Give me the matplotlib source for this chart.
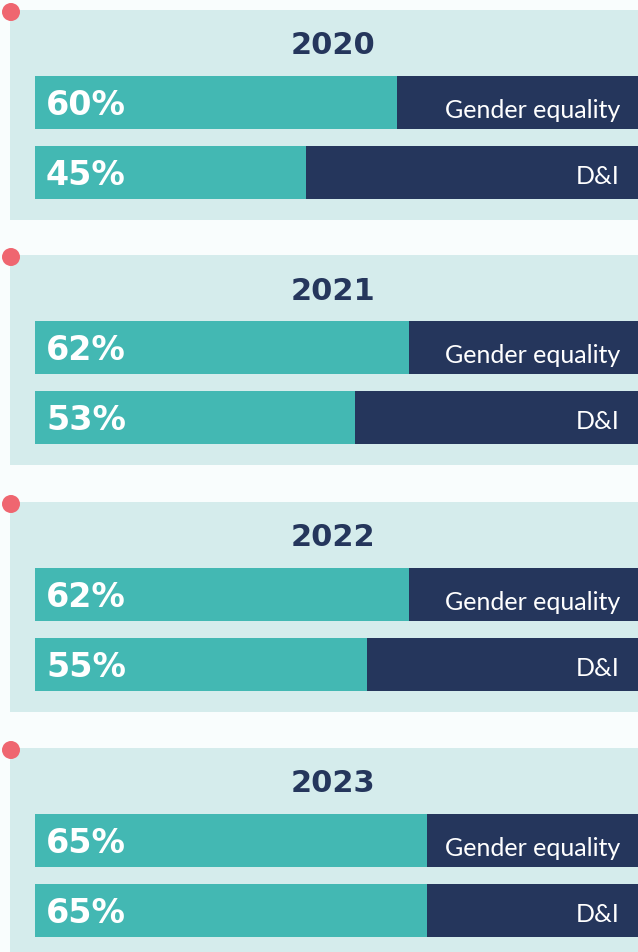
import matplotlib.pyplot as plt
from matplotlib.patches import Rectangle, Circle

# data
years = ["2020", "2021", "2022", "2023"]
gender_equality = [60, 62, 62, 65]
d_and_i = [45, 53, 55, 65]
bar_labels = ["Gender equality", "D&I"]

teal = "#43b8b3"
navy = "#25365c"
panel_bg = "#d5ecec"
page_bg = "#f9fdfd"
dot_red = "#ef6670"

W, H = 638, 952
fig = plt.figure(figsize=(W / 100, H / 100), dpi=100, facecolor=page_bg)
ax = fig.add_axes([0, 0, 1, 1])
ax.set_xlim(0, W)
ax.set_ylim(H, 0)
ax.axis("off")

# pixel layout
panel_tops = [10, 255, 502, 748]
panel_h = 210
bar_x0, bar_w = 35, 603
bar_h = 53
scale = bar_w / 100.0

for i, yr in enumerate(years):
    top = panel_tops[i]
    ax.add_patch(Rectangle((10, top), W - 10, panel_h + (10 if i == 3 else 0),
                           facecolor=panel_bg, edgecolor="none", zorder=0))
    ax.add_patch(Circle((11, top + 2), 9, facecolor=dot_red, edgecolor="none", zorder=3))
    ax.text(333, top + 36, yr, ha="center", va="center", fontsize=22,
            fontweight="heavy", color=navy, family="DejaVu Sans")

    vals = [gender_equality[i], d_and_i[i]]
    ys = [top + 66 + bar_h / 2, top + 136 + bar_h / 2]
    # full navy bar then teal share on top
    ax.barh(ys, [100 * scale] * 2, left=bar_x0, height=bar_h, color=navy, zorder=1)
    ax.barh(ys, [v * scale for v in vals], left=bar_x0, height=bar_h, color=teal, zorder=2)
    for j, (v, y) in enumerate(zip(vals, ys)):
        ax.text(46, y + 3, f"{v}%", ha="left", va="center", fontsize=24,
                fontweight="heavy", color="white", family="DejaVu Sans", zorder=4)
        off = 8 if j == 0 else 4
        ax.text(620, y + off, bar_labels[j], ha="right", va="center", fontsize=18,
                color="white", family="Lato", zorder=4)

fig.savefig("out.png", dpi=100, facecolor=page_bg)
